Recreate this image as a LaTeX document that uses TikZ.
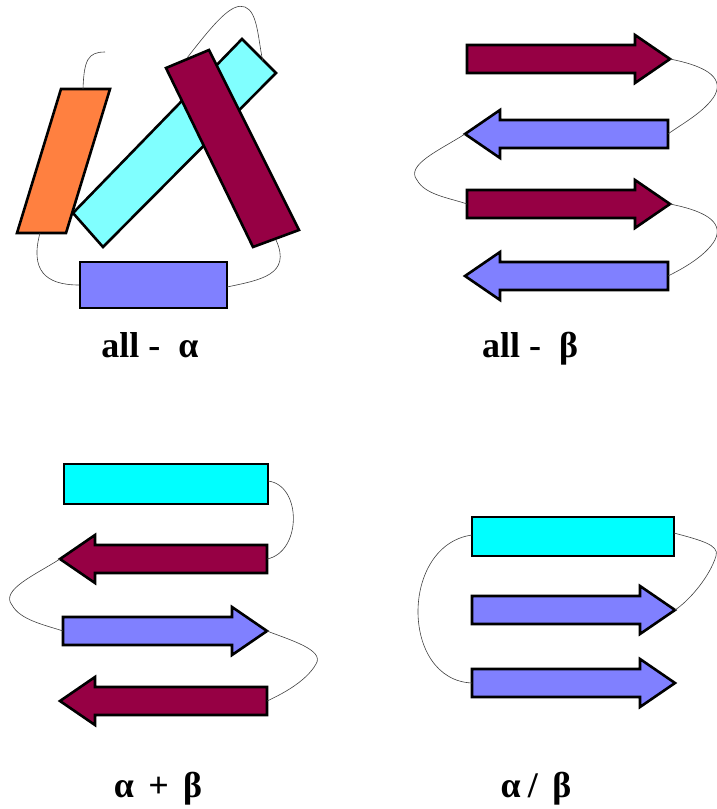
\documentclass[tikz,border=0pt]{standalone}
\usepackage{fontspec}
\setmainfont{Liberation Serif}
\definecolor{helixOrange}{RGB}{255, 128, 64}
\definecolor{helixCyan}{RGB}{128, 255, 255}
\definecolor{helixAqua}{RGB}{0, 255, 255}
\definecolor{sheetMaroon}{RGB}{150, 0, 68}
\definecolor{sheetBlue}{RGB}{128, 128, 255}
\usetikzlibrary{calc}

% strand arrows: fill, name, tail x, tip x, y
\newcommand{\strandR}[5]{%
  \draw[strand, fill=#1] (#3,#5-14) -- (#4-35,#5-14) -- (#4-35,#5-24) -- (#4,#5)
    -- (#4-35,#5+24) -- (#4-35,#5+14) -- (#3,#5+14) -- cycle;
  \coordinate (#2-tail) at (#3,#5);
  \coordinate (#2-tip) at (#4,#5);}
\newcommand{\strandL}[5]{%
  \draw[strand, fill=#1] (#3,#5-14) -- (#4+35,#5-14) -- (#4+35,#5-24) -- (#4,#5)
    -- (#4+35,#5+24) -- (#4+35,#5+14) -- (#3,#5+14) -- cycle;
  \coordinate (#2-tail) at (#3,#5);
  \coordinate (#2-tip) at (#4,#5);}

\begin{document}
\begin{tikzpicture}[
  x=1pt, y=-1pt,
  strand/.style={draw, line width=2.6pt, line join=miter},
  helix/.style={draw, line width=2.6pt, line join=miter},
  loop/.style={draw=black!75, line width=0.6pt},
  lbl/.style={anchor=base, font=\fontsize{36}{42}\selectfont\bfseries}
]
\useasboundingbox (0,0) rectangle (716,809);

% all-alpha
\draw[helix, fill=helixCyan] (242,39) -- (276,73) -- (103,247) -- (73,213) -- cycle;
\draw[helix, fill=sheetMaroon] (166,68) -- (209,50) -- (299,230) -- (253,247) -- cycle;
\draw[helix, fill=helixOrange] (61,89) -- (110,89) -- (66,233) -- (17,233) -- cycle;
\draw[helix, fill=sheetBlue] (80,262) rectangle (227,308);
\draw[loop] (83,89) .. controls (84,60) and (88,52) .. (105,52);
\draw[loop] (187,58) .. controls (215,22) and (232,2) .. (245,7)
  .. controls (258,12) and (258,40) .. (263,62);
\draw[loop] (40,233) .. controls (30,270) and (45,285) .. (79,285);
\draw[loop] (227,287) .. controls (260,280) and (292,275) .. (276,240);
\node[lbl] (la) at (150,357) {all -\hspace{0.5em}α};

% all-beta
\strandR{sheetMaroon}{b1}{467}{670}{59}
\strandL{sheetBlue}{b2}{668}{465}{134}
\strandR{sheetMaroon}{b3}{467}{670}{204}
\strandL{sheetBlue}{b4}{668}{465}{276}
\draw[loop] (b1-tip) .. controls (700,65) and (725,75) .. (715,95)
  .. controls (705,112) and (680,125) .. (b2-tail);
\draw[loop] (b2-tip) .. controls (440,150) and (405,165) .. (417,180)
  .. controls (425,195) and (450,198) .. (b3-tail);
\draw[loop] (b3-tip) .. controls (700,210) and (725,220) .. (715,240)
  .. controls (705,257) and (680,270) .. (b4-tail);
\node[lbl] (lb) at (530,357) {all -\hspace{0.5em}β};

% alpha+beta
\draw[helix, fill=helixAqua] (64,464) rectangle (268,504);
\strandL{sheetMaroon}{c1}{267}{60}{559}
\strandR{sheetBlue}{c2}{63}{267}{631}
\strandL{sheetMaroon}{c3}{267}{60}{701}
\draw[loop] (268,481) .. controls (302,485) and (302,552) .. (c1-tail);
\draw[loop] (c1-tip) .. controls (35,575) and (0,590) .. (12,605)
  .. controls (20,620) and (45,625) .. (c2-tail);
\draw[loop] (c2-tip) .. controls (290,640) and (325,650) .. (316,664)
  .. controls (306,682) and (280,695) .. (c3-tail);
\node[lbl] (lc) at (158,797) {α\hspace{0.4em}+\hspace{0.4em}β};

% alpha/beta
\draw[helix, fill=helixAqua] (472,517) rectangle (674,556);
\strandR{sheetBlue}{d1}{472}{675}{610}
\strandR{sheetBlue}{d2}{472}{675}{683}
\draw[loop] (472,535) .. controls (400,545) and (400,680) .. (d2-tail);
\draw[loop] (674,533) .. controls (700,540) and (720,545) .. (716,556)
  .. controls (710,576) and (690,600) .. (d1-tip);
\node[lbl] (ld) at (536,797) {α\hspace{0.2em}/\hspace{0.4em}β};
\end{tikzpicture}
\end{document}
